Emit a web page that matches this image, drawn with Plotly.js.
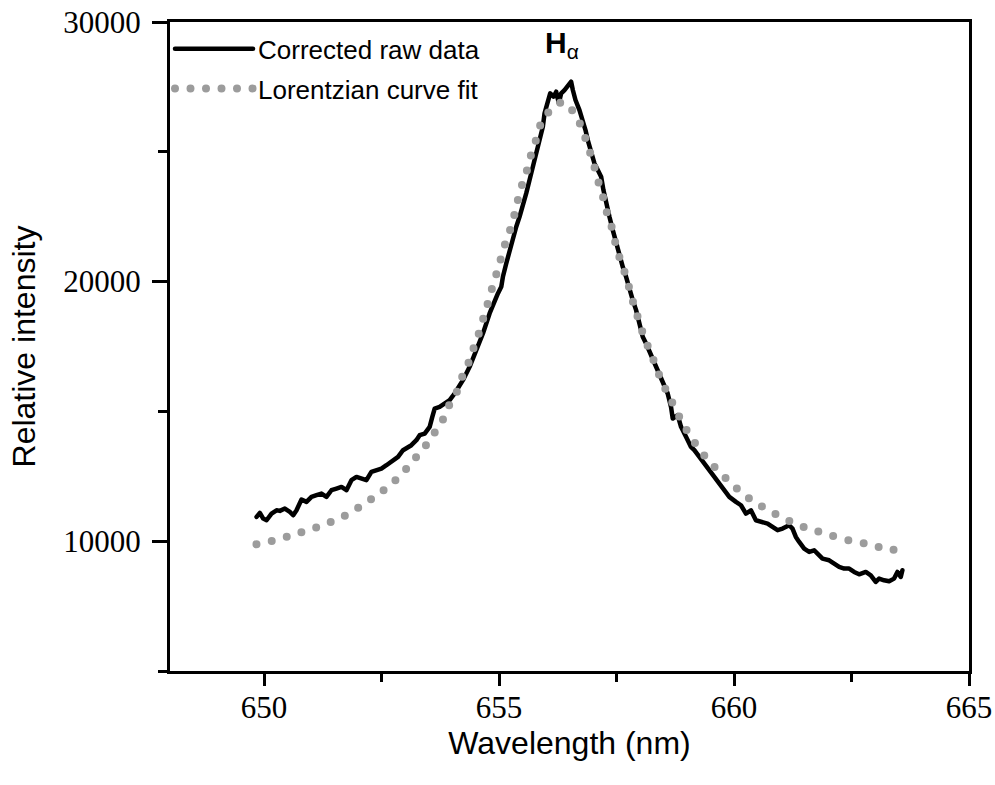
<!DOCTYPE html>
<html>
<head>
<meta charset="utf-8">
<script src="https://cdn.plot.ly/plotly-3.0.1.min.js"></script>
<style>
html, body { margin: 0; padding: 0; background: #fff; }
#chart { width: 995px; height: 785px; }
.scatterlayer .js-line, .legend .js-line { stroke-linecap: round; stroke-linejoin: round; }
</style>
</head>
<body>
<div id="chart"></div>
<script>
// Corrected raw data (wavelength nm, relative intensity)
const rawWavelength = [
  649.842, 649.912, 649.983, 650.054, 650.160, 650.267, 650.337, 650.444, 650.550, 650.621,
  650.692, 650.798, 650.904, 651.010, 651.117, 651.223, 651.329, 651.435, 651.542, 651.648,
  651.754, 651.860, 651.967, 652.073, 652.179, 652.285, 652.392, 652.498, 652.604, 652.746,
  652.852, 652.958, 653.029, 653.135, 653.242, 653.312, 653.419, 653.525, 653.581, 653.631,
  653.737, 653.844, 653.950, 654.056, 654.198, 654.233, 654.375, 654.517, 654.658, 654.800,
  654.906, 654.977, 655.048, 655.083, 655.154, 655.225, 655.296, 655.367, 655.437, 655.508,
  655.579, 655.650, 655.721, 655.792, 655.862, 655.933, 655.969, 656.018, 656.089, 656.160,
  656.217, 656.273, 656.323, 656.394, 656.464, 656.535, 656.571, 656.627, 656.712, 656.783,
  656.840, 656.889, 656.960, 657.031, 657.102, 657.173, 657.222, 657.279, 657.350, 657.421,
  657.491, 657.562, 657.633, 657.704, 657.775, 657.846, 657.917, 657.987, 658.058, 658.129,
  658.235, 658.306, 658.377, 658.483, 658.589, 658.660, 658.696, 658.802, 658.873, 658.979,
  659.085, 659.156, 659.262, 659.369, 659.475, 659.581, 659.687, 659.794, 659.900, 660.041,
  660.148, 660.254, 660.360, 660.466, 660.573, 660.714, 660.820, 660.927, 661.033, 661.175,
  661.245, 661.316, 661.387, 661.493, 661.600, 661.706, 661.777, 661.883, 662.025, 662.131,
  662.237, 662.344, 662.450, 662.556, 662.662, 662.804, 662.910, 663.016, 663.087, 663.193,
  663.300, 663.406, 663.477, 663.548, 663.583
];
const rawIntensity = [
  10935, 11090, 10871, 10807, 11064, 11192, 11167, 11257, 11128, 11000,
  11192, 11604, 11514, 11706, 11771, 11835, 11706, 11963, 12028, 12092,
  11963, 12349, 12477, 12413, 12349, 12670, 12734, 12799, 12927, 13119,
  13248, 13505, 13569, 13698, 13890, 14083, 14147, 14404, 14789, 15111,
  15175, 15304, 15432, 15689, 16074, 16203, 16717, 17359, 18001, 18772,
  19286, 19543, 19800, 20185, 20699, 21213, 21727, 22112, 22497, 22883,
  23397, 23911, 24425, 24939, 25324, 25966, 26480, 26865, 27251, 27122,
  27315, 26865, 27251, 27379, 27572, 27700, 27379, 26994, 26608, 26223,
  25838, 25452, 24939, 24553, 24296, 24039, 23525, 23011, 22497, 21984,
  21470, 20956, 20570, 20185, 19671, 19286, 18900, 18387, 17873, 17616,
  17166, 16781, 16524, 16074, 15689, 15175, 14725, 14854, 14404, 14019,
  13633, 13505, 13248, 12991, 12734, 12477, 12220, 11963, 11706, 11514,
  11385, 11064, 11192, 10807, 10743, 10679, 10550, 10422, 10486, 10614,
  10486, 10165, 9972, 9715, 9587, 9651, 9523, 9330, 9265, 9137,
  9008, 8944, 8944, 8816, 8726, 8816, 8687, 8430, 8559, 8495,
  8456, 8559, 8816, 8623, 8880
];

// Lorentzian curve fit
const fitWavelength = [
  649.84, 650.17, 650.51, 650.87, 651.19, 651.51, 651.82, 652.12, 652.40, 652.65,
  652.93, 653.16, 653.40, 653.59, 653.78, 653.93, 654.10, 654.23, 654.36, 654.48,
  654.60, 654.69, 654.80, 654.89, 655.00, 655.08, 655.20, 655.30, 655.38, 655.47,
  655.58, 655.67, 655.78, 655.88, 656.06, 656.36, 656.61, 656.78, 656.89, 657.00,
  657.08, 657.19, 657.28, 657.39, 657.47, 657.56, 657.67, 657.77, 657.86, 657.97,
  658.07, 658.20, 658.33, 658.45, 658.60, 658.75, 658.91, 659.09, 659.28, 659.44,
  659.67, 659.91, 660.18, 660.49, 660.80, 661.10, 661.40, 661.78, 662.10, 662.44,
  662.79, 663.12, 663.46
];
const fitIntensity = [
  9882, 10009, 10190, 10383, 10576, 10807, 11077, 11424, 11771, 12117,
  12580, 13081, 13582, 14083, 14584, 15201, 15740, 16395, 16908, 17552,
  18157, 18746, 19390, 19991, 20596, 21186, 21791, 22369, 22986, 23614,
  24192, 24809, 25414, 26030, 26543, 26928, 26481, 25838, 25221, 24643,
  24038, 23421, 22754, 22149, 21533, 20955, 20377, 19760, 19159, 18530,
  17964, 17359, 16781, 16203, 15652, 15112, 14534, 13994, 13505, 13146,
  12696, 12283, 11836, 11451, 11127, 10846, 10600, 10383, 10202, 10036,
  9909, 9755, 9651
];

const xTickValues = [650, 655, 660, 665];
const xTickLabels = ['650', '655', '660', '665'];
const yTickValues = [10000, 20000, 30000];
const yTickLabels = ['10000', '20000', '30000'];
const seriesNames = ['Corrected raw data', 'Lorentzian curve fit'];
const peakLabel = '<b>H</b><sub>α</sub>';
const peakLabelPos = [656.35, 29150];

const serif = 'Liberation Serif, Times New Roman, serif';
const sans = 'Liberation Sans, Arial, sans-serif';

const traces = [
  {
    x: rawWavelength, y: rawIntensity, name: seriesNames[0],
    type: 'scatter', mode: 'lines',
    line: { color: '#000000', width: 4.5 },
    legendgroup: 'a'
  },
  {
    x: fitWavelength, y: fitIntensity, name: seriesNames[1],
    type: 'scatter', mode: 'lines',
    line: { color: '#9c9c9c', width: 8, dash: '0px,15.5px', shape: 'spline', smoothing: 0.6 },
    legendgroup: 'b'
  }
];

const layout = {
  width: 995, height: 785,
  margin: { l: 170, r: 26, t: 22, b: 114 },
  paper_bgcolor: '#fff', plot_bgcolor: '#fff',
  showlegend: true,
  legend: {
    x: 0.0, y: 0.995, xanchor: 'left', yanchor: 'top',
    bgcolor: 'rgba(0,0,0,0)', borderwidth: 0,
    itemwidth: 78, tracegroupgap: 3, traceorder: 'grouped',
    font: { family: sans, size: 26, color: '#000' }
  },
  xaxis: {
    showgrid: false, zeroline: false,
    showline: true, linecolor: '#000', linewidth: 3, mirror: true,
    ticks: 'outside', tickcolor: '#000', tickwidth: 3, ticklen: 12,
    range: [648, 665], tickmode: 'array', tickvals: xTickValues, ticktext: xTickLabels,
    ticklabelstandoff: -5,
    tickfont: { family: serif, size: 31, color: '#000' },
    minor: { ticks: 'outside', dtick: 2.5, tick0: 0, ticklen: 8, tickwidth: 3, tickcolor: '#000', showgrid: false },
    title: { text: 'Wavelength (nm)', standoff: 0,
      font: { family: sans, size: 32, color: '#000' } }
  },
  yaxis: {
    showgrid: false, zeroline: false,
    showline: true, linecolor: '#000', linewidth: 3, mirror: true,
    ticks: 'outside', tickcolor: '#000', tickwidth: 3, ticklen: 15,
    range: [5000, 30000], tickmode: 'array', tickvals: yTickValues, ticktext: yTickLabels,
    ticklabelstandoff: 5,
    tickfont: { family: serif, size: 31, color: '#000' },
    minor: { ticks: 'outside', dtick: 5000, tick0: 0, ticklen: 9, tickwidth: 3, tickcolor: '#000', showgrid: false },
    title: { text: 'Relative intensity', standoff: 19,
      font: { family: sans, size: 32, color: '#000' } }
  },
  annotations: [{
    x: peakLabelPos[0], y: peakLabelPos[1], xref: 'x', yref: 'y',
    text: peakLabel, showarrow: false, xanchor: 'center', yanchor: 'middle',
    font: { family: sans, size: 30, color: '#000' }
  }]
};

Plotly.newPlot('chart', traces, layout, { displayModeBar: false, staticPlot: true });
</script>
</body>
</html>
